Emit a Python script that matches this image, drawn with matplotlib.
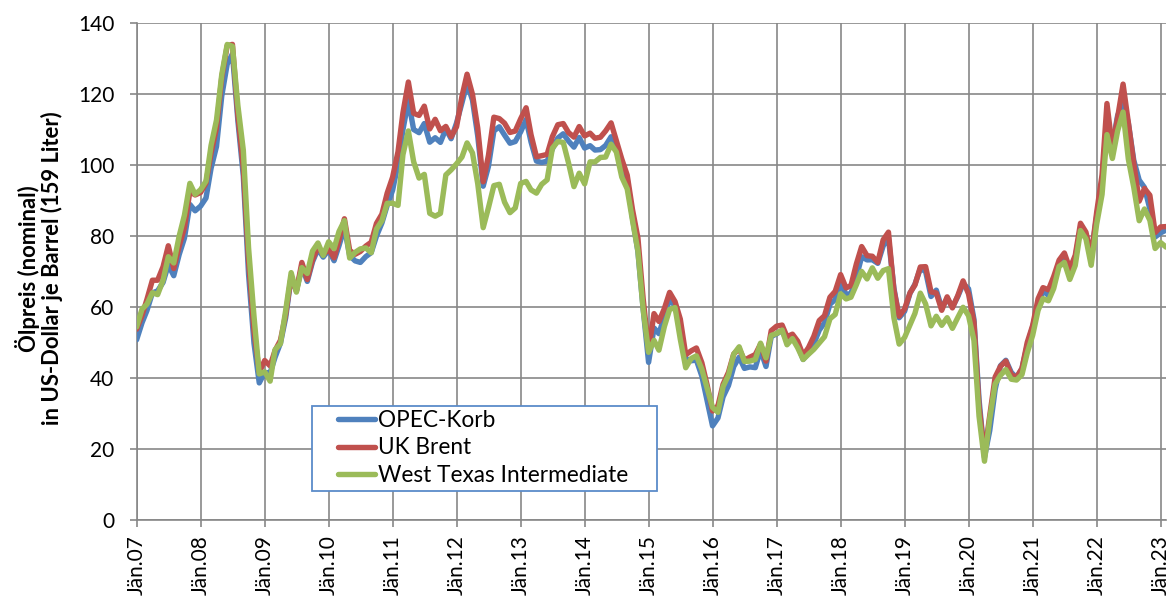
import numpy as np
import matplotlib
matplotlib.use("Agg")
import matplotlib.pyplot as plt
from matplotlib.patches import Rectangle
import pandas as pd

# Monthly averages, Jan 2007 .. Feb 2023 (US-$ per barrel)
opec = [
    50.73, 55.53, 58.96, 63.93, 64.49, 66.89, 71.82, 68.78, 74.73, 79.36, 88.84, 87.05,
    88.35, 90.64, 99.03, 105.16, 119.39, 128.33, 131.22, 112.41, 96.85, 69.16, 49.76, 38.60,
    41.52, 41.41, 45.78, 49.79, 56.98, 68.36, 64.59, 71.35, 67.17, 72.67, 76.29, 74.01,
    76.01, 72.99, 77.21, 82.33, 74.48, 72.95, 72.51, 74.15, 75.27, 79.92, 83.62, 88.56,
    92.83, 100.29, 109.84, 118.09, 109.94, 109.04, 111.62, 106.36, 107.61, 106.31, 110.08, 107.34,
    111.77, 117.48, 122.97, 118.18, 108.07, 93.98, 99.55, 109.52, 110.70, 108.36, 106.07, 106.55,
    109.28, 112.75, 106.44, 101.05, 100.65, 101.03, 104.45, 107.52, 108.73, 106.69, 104.97, 107.67,
    104.71, 105.38, 104.15, 104.27, 105.44, 107.89, 105.61, 100.75, 95.98, 85.06, 75.57, 59.46,
    44.38, 54.06, 52.46, 57.30, 62.16, 60.21, 54.19, 45.46, 44.83, 45.02, 40.50, 33.64,
    26.50, 28.72, 34.65, 37.86, 43.21, 45.84, 42.68, 43.10, 42.89, 47.87, 43.22, 51.67,
    52.40, 53.37, 50.32, 51.43, 49.20, 45.21, 46.93, 49.60, 53.44, 55.50, 60.74, 62.06,
    66.85, 63.48, 63.76, 68.43, 74.11, 73.22, 73.27, 72.26, 77.18, 79.39, 65.33, 56.94,
    58.74, 63.83, 66.37, 70.78, 69.97, 62.92, 64.71, 59.62, 62.36, 59.91, 62.94, 66.48,
    65.10, 56.48, 33.92, 17.66, 25.17, 36.76, 43.42, 44.96, 41.54, 40.08, 42.61, 49.17,
    54.38, 60.58, 64.56, 63.24, 66.91, 71.89, 73.53, 70.33, 73.88, 82.11, 80.37, 74.38,
    85.41, 94.97, 113.48, 105.64, 113.87, 117.72, 111.75, 101.28, 95.67, 93.62, 87.54, 79.68,
    80.83, 81.62,
]
brent = [
    53.70, 57.60, 62.10, 67.50, 67.50, 71.30, 77.20, 70.80, 77.10, 82.30, 92.50, 91.50,
    92.20, 94.80, 103.30, 110.40, 124.60, 133.50, 133.90, 113.90, 99.10, 72.80, 53.20, 41.60,
    44.90, 43.40, 47.70, 50.60, 57.90, 68.60, 64.40, 72.50, 67.70, 73.20, 77.00, 74.70,
    76.20, 73.80, 78.80, 84.80, 75.90, 74.80, 75.60, 77.10, 78.20, 83.50, 86.10, 92.00,
    96.50, 103.70, 114.60, 123.30, 114.50, 113.90, 116.50, 110.10, 112.80, 109.60, 110.80, 107.90,
    110.70, 119.30, 125.50, 119.80, 110.30, 95.20, 102.60, 113.40, 113.00, 111.70, 109.10, 109.50,
    112.96, 116.05, 108.47, 102.25, 102.56, 102.92, 107.93, 111.28, 111.60, 109.08, 107.79, 110.76,
    108.12, 108.90, 107.48, 107.76, 109.54, 111.80, 106.77, 101.61, 97.09, 87.43, 79.44, 62.34,
    47.76, 58.10, 55.89, 59.52, 64.08, 61.48, 56.56, 46.52, 47.62, 48.43, 44.27, 38.01,
    30.70, 32.18, 38.21, 41.58, 46.74, 48.25, 44.95, 45.84, 46.57, 49.52, 44.73, 53.31,
    54.58, 54.87, 51.59, 52.31, 50.33, 46.37, 48.48, 51.70, 56.15, 57.51, 62.71, 64.37,
    69.08, 65.32, 66.02, 72.11, 76.98, 74.41, 74.25, 72.53, 78.89, 81.03, 64.75, 57.36,
    59.41, 63.96, 66.14, 71.23, 71.32, 64.22, 63.92, 59.04, 62.83, 59.71, 63.21, 67.31,
    63.65, 55.66, 32.01, 18.38, 29.38, 40.27, 43.24, 44.74, 40.91, 40.19, 42.69, 49.99,
    54.77, 62.28, 65.41, 64.81, 68.53, 73.16, 75.17, 70.75, 74.49, 83.54, 81.05, 74.17,
    86.51, 97.13, 117.25, 104.58, 113.34, 122.71, 111.93, 100.45, 89.76, 93.33, 91.42, 80.92,
    82.50, 82.60,
]
wti = [
    54.35, 59.39, 60.74, 63.98, 63.45, 67.49, 74.12, 72.36, 79.92, 85.80, 94.77, 91.69,
    92.97, 95.39, 105.45, 112.58, 125.40, 133.88, 133.37, 116.67, 104.11, 76.61, 57.31, 41.12,
    41.71, 39.09, 47.94, 49.65, 59.03, 69.64, 64.15, 71.05, 69.41, 75.72, 77.99, 74.47,
    78.33, 76.39, 81.20, 84.29, 73.74, 75.34, 76.32, 76.60, 75.24, 81.89, 84.25, 89.15,
    89.17, 88.58, 102.86, 109.53, 100.90, 96.26, 97.30, 86.33, 85.52, 86.32, 97.16, 98.56,
    100.27, 102.20, 106.16, 103.32, 94.66, 82.30, 87.90, 94.13, 94.51, 89.49, 86.53, 87.86,
    94.76, 95.31, 92.94, 92.02, 94.51, 95.77, 104.67, 106.57, 106.29, 100.54, 93.86, 97.63,
    94.62, 100.82, 100.80, 102.07, 102.18, 105.79, 103.59, 96.54, 93.21, 84.40, 75.79, 59.29,
    47.22, 50.58, 47.82, 54.45, 59.27, 59.82, 50.90, 42.87, 45.48, 46.22, 42.44, 37.19,
    31.68, 30.32, 37.55, 40.75, 46.71, 48.76, 44.65, 44.72, 45.18, 49.78, 45.66, 51.97,
    52.50, 53.47, 49.33, 51.06, 48.48, 45.18, 46.63, 48.04, 49.82, 51.58, 56.64, 57.88,
    63.70, 62.23, 62.73, 66.25, 69.98, 67.87, 70.98, 68.06, 70.23, 70.75, 56.96, 49.52,
    51.38, 54.95, 58.15, 63.86, 60.83, 54.66, 57.35, 54.81, 56.95, 53.96, 57.03, 59.88,
    57.52, 50.54, 29.21, 16.55, 28.56, 38.31, 40.71, 42.34, 39.63, 39.40, 40.94, 47.02,
    52.00, 59.04, 62.33, 61.72, 65.17, 71.38, 72.49, 67.73, 71.65, 81.48, 79.15, 71.71,
    83.22, 91.64, 108.50, 101.78, 109.55, 114.84, 101.62, 93.67, 84.26, 87.55, 84.37, 76.44,
    78.12, 76.83,
]
series_names = ["OPEC-Korb", "UK Brent", "West Texas Intermediate"]
series_colors = ["#4F81BD", "#C0504D", "#9BBB59"]
months = pd.date_range("2007-01-01", periods=len(brent), freq="MS")
tick_years = list(range(2007, 2024))
tick_labels = [f"Jän.{y % 100:02d}" for y in tick_years]
y_ticks = list(range(0, 141, 20))
ylabel_lines = ["Ölpreis (nominal)", "in US-Dollar je Barrel (159 Liter)"]

plt.rcParams['font.family'] = ['Lato', 'DejaVu Sans']

W, H = 1170, 600
fig = plt.figure(figsize=(W / 100, H / 100), dpi=100)
ax_l, ax_r, ax_t, ax_b = 136.6, 1166.0, 22.7, 520.0
ax = fig.add_axes([ax_l / W, 1 - ax_b / H, (ax_r - ax_l) / W, (ax_b - ax_t) / H])

grid_c = "#878787"
for vals, name, col in zip([opec, brent, wti], series_names, series_colors):
    ax.plot(months, vals, color=col, lw=3.9, label=name,
            solid_joinstyle="round", solid_capstyle="round", zorder=3)

ax.set_ylim(0, 140)
ax.set_yticks(y_ticks)
ax.set_xlim(months[0], months[-1])
ax.set_xticks([pd.Timestamp(f"{y}-01-01") for y in tick_years])
ax.set_xticklabels(tick_labels, rotation=90, fontsize=15)
ax.tick_params(axis="y", labelsize=15, length=5, width=1.2, color=grid_c, pad=11)
ax.tick_params(axis="x", length=5, width=1.2, color=grid_c, pad=6)
ax.grid(True, color=grid_c, lw=1.2, zorder=1)
ax.set_axisbelow(True)
for s in ["top", "right"]:
    ax.spines[s].set_visible(False)
for s in ["left", "bottom"]:
    ax.spines[s].set_color(grid_c)
    ax.spines[s].set_linewidth(1.2)

# y-axis title (two centred lines)
yc = 1 - 268.5 / H
fig.text(28 / W, yc, ylabel_lines[0], rotation=90, ha="center", va="center",
         fontsize=15.8, fontweight="bold")
fig.text(52 / W, yc, ylabel_lines[1], rotation=90, ha="center", va="center",
         fontsize=15.8, fontweight="bold")

# legend box
def axx(px):
    return (px - ax_l) / (ax_r - ax_l)

def axy(py):
    return (ax_b - py) / (ax_b - ax_t)

box = Rectangle((axx(311.7), axy(490.7)), axx(656.7) - axx(311.7), axy(406) - axy(490.7),
                transform=ax.transAxes, facecolor="white", edgecolor="#5B8BC9",
                lw=1.3, zorder=4)
ax.add_patch(box)
leg = ax.legend(loc="center left", bbox_to_anchor=(axx(338), axy(448)), fontsize=16.3,
                frameon=False, handlelength=1.63, handletextpad=0.13, borderpad=0,
                labelspacing=0.30, borderaxespad=0)
leg.set_zorder(5)

fig.savefig("out.png", dpi=100)
